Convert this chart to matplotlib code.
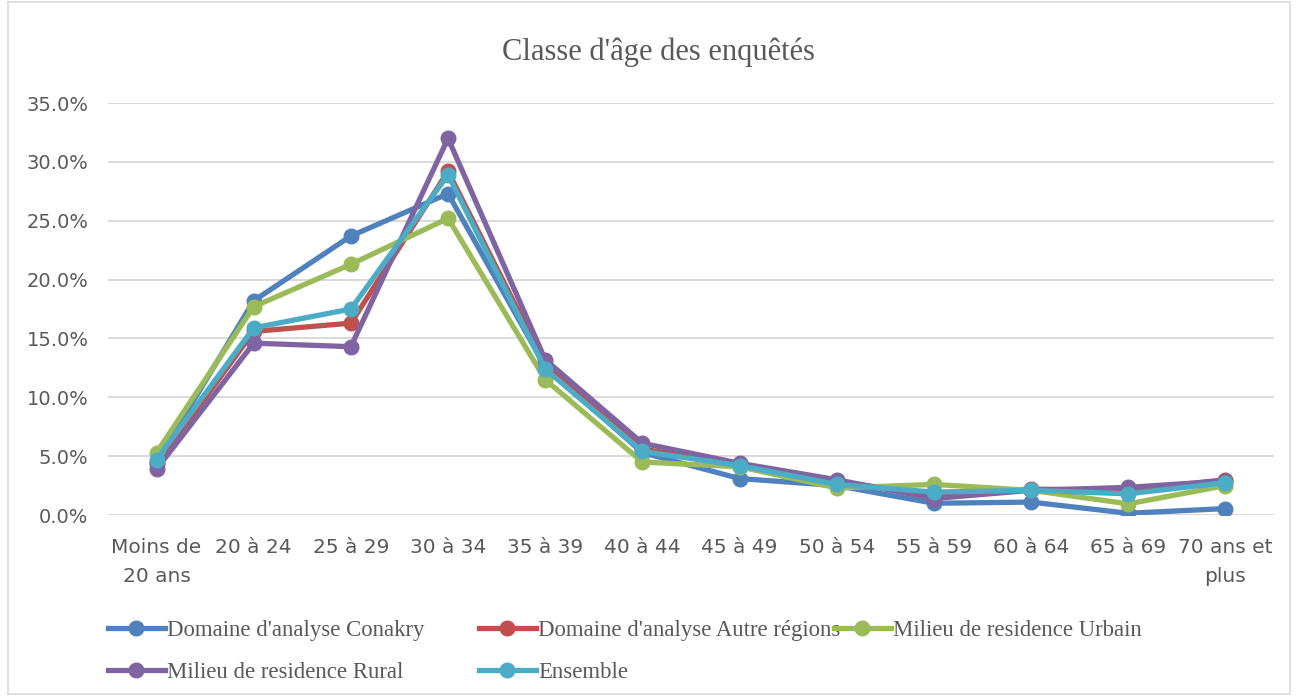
import matplotlib

matplotlib.use("Agg")
import matplotlib.pyplot as plt
from matplotlib.patches import Rectangle
from matplotlib.ticker import FuncFormatter

# Valeurs (en %)
classes = ["Moins de\n20 ans", "20 à 24", "25 à 29", "30 à 34", "35 à 39", "40 à 44",
           "45 à 49", "50 à 54", "55 à 59", "60 à 64", "65 à 69", "70 ans et\nplus"]
conakry = [4.5, 18.2, 23.7, 27.3, 12.6, 5.3, 3.1, 2.5, 1.0, 1.1, 0.15, 0.55]
autres = [4.3, 15.6, 16.3, 29.2, 12.8, 5.6, 4.3, 2.8, 1.8, 2.2, 2.1, 3.0]
urbain = [5.3, 17.7, 21.3, 25.2, 11.5, 4.5, 4.1, 2.3, 2.6, 2.1, 0.95, 2.5]
rural = [3.9, 14.6, 14.3, 32.0, 13.2, 6.1, 4.4, 3.0, 1.4, 2.1, 2.35, 2.9]
ensemble = [4.7, 15.9, 17.5, 28.9, 12.4, 5.4, 4.2, 2.6, 1.95, 2.1, 1.8, 2.75]

series = [
    ("Domaine d'analyse Conakry", conakry, "#4F81BD"),
    ("Domaine d'analyse Autre régions", autres, "#C0504D"),
    ("Milieu de residence Urbain", urbain, "#9BBB59"),
    ("Milieu de residence Rural", rural, "#8064A2"),
    ("Ensemble", ensemble, "#4BACC6"),
]

GRIS = "#595959"
SERIF = ["Liberation Serif", "DejaVu Serif"]

fig = plt.figure(figsize=(12.96, 6.96), dpi=100)
fig.patches.append(Rectangle((0.006, 0.003), 0.989, 0.994, transform=fig.transFigure,
                             fill=False, edgecolor="#D9D9D9", lw=1.2))
ax = fig.add_axes([0.0833, 0.26, 0.8997, 0.592])

lignes = {}
for nom, vals, couleur in series:
    (l,) = ax.plot(range(len(classes)), vals, color=couleur, lw=3.8, marker="o",
                   ms=10.5, label=nom, solid_joinstyle="round")
    lignes[nom] = l

ax.set_xlim(-0.5, len(classes) - 0.5)
ax.set_ylim(0, 35)
ax.set_yticks(range(0, 36, 5))
ax.yaxis.set_major_formatter(FuncFormatter(lambda v, _: f"{v:.1f}%"))
ax.set_xticks(range(len(classes)))
ax.set_xticklabels(classes, linespacing=1.65)
ax.tick_params(length=0, colors=GRIS)
ax.tick_params(axis="x", pad=16.5, labelsize=14.5)
ax.tick_params(axis="y", pad=14, labelsize=14)
for s in ax.spines.values():
    s.set_visible(False)
ax.grid(True, axis="y", color="#D9D9D9", lw=1.4)
ax.set_axisbelow(True)

fig.text(0.508, 0.925, "Classe d'âge des enquêtés", ha="center", va="center",
         fontsize=22, color=GRIS, family=SERIF)

# Légende en trois colonnes de même largeur, comme dans Excel
colonnes = [
    (108, ["Domaine d'analyse Conakry", "Milieu de residence Rural"]),
    (479, ["Domaine d'analyse Autre régions", "Ensemble"]),
    (834, ["Milieu de residence Urbain"]),
]
for x0, noms in colonnes:
    fig.legend([lignes[n] for n in noms], noms, loc="upper left",
               bbox_to_anchor=(x0 / 1296, 1 - 620 / 696), frameon=False,
               prop={"family": SERIF, "size": 16.4}, labelcolor=GRIS,
               borderpad=0, borderaxespad=0, handlelength=2.5,
               handletextpad=0.1, labelspacing=0.9)

fig.savefig("out.png", dpi=100)
